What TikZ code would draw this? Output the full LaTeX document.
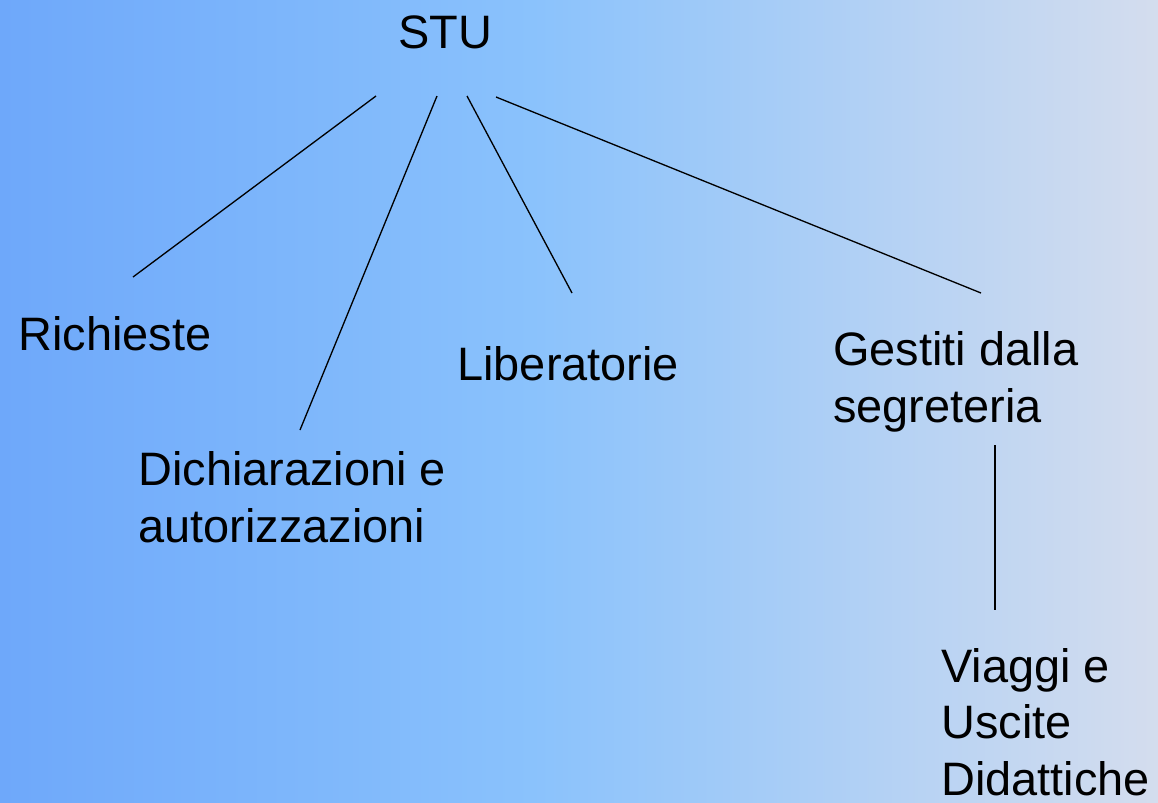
\documentclass[tikz,border=0pt]{standalone}
\usepackage{fontspec}
\setmainfont{Liberation Sans}
\usepackage{xcolor}
\usetikzlibrary{positioning, calc}
\definecolor{sfondosx}{RGB}{110,168,250}
\definecolor{sfondomid}{RGB}{138,194,252}
\definecolor{sfondodx}{RGB}{212,221,238}
\pgfdeclarehorizontalshading{sfondo}{100bp}{color(0bp)=(sfondosx); color(25bp)=(sfondosx); color(48bp)=(sfondomid); color(75bp)=(sfondodx); color(100bp)=(sfondodx)}
\tikzset{
    voce/.style={inner sep=0pt, anchor=base west, align=left, font=\fontsize{26.7}{32.1}\selectfont},
    ramo/.style={draw=black, line width=0.75pt}
}

\begin{document}
\begin{tikzpicture}[x=0.02cm, y=-0.02cm]
            \shade[shading=sfondo] (0, 0) rectangle (1158, 802);
            \useasboundingbox (0, 0) rectangle (1158, 802);
            % voci (base = ultima riga)
            \node[voce] (stu) at (398, 48) {STU};
            \node[voce] (richieste) at (18, 350) {Richieste};
            \node[voce] (dichiarazioni) at (138, 542) {Dichiarazioni e\\autorizzazioni};
            \node[voce] (liberatorie) at (457, 380) {Liberatorie};
            \node[voce] (gestiti) at (833, 422) {Gestiti dalla\\segreteria};
            \node[voce] (viaggi) at (941, 795) {Viaggi e\\Uscite\\Didattiche};
            % estremi dei rami
            \coordinate (stu-r) at (376, 96);
            \coordinate (stu-d) at (437, 96);
            \coordinate (stu-l) at (467, 96);
            \coordinate (stu-g) at (496, 97);
            \coordinate (richieste-top) at (133, 277);
            \coordinate (dichiarazioni-top) at (300, 430);
            \coordinate (liberatorie-top) at (572, 293);
            \coordinate (gestiti-top) at (981, 293);
            \coordinate (gestiti-bot) at (995, 445);
            \coordinate (viaggi-top) at (995, 610);
            % rami
            \draw[ramo] (stu-r) -- (richieste-top);
            \draw[ramo] (stu-d) -- (dichiarazioni-top);
            \draw[ramo] (stu-l) -- (liberatorie-top);
            \draw[ramo] (stu-g) -- (gestiti-top);
            \draw[ramo] (gestiti-bot) -- (viaggi-top);
        \end{tikzpicture}
\end{document}
